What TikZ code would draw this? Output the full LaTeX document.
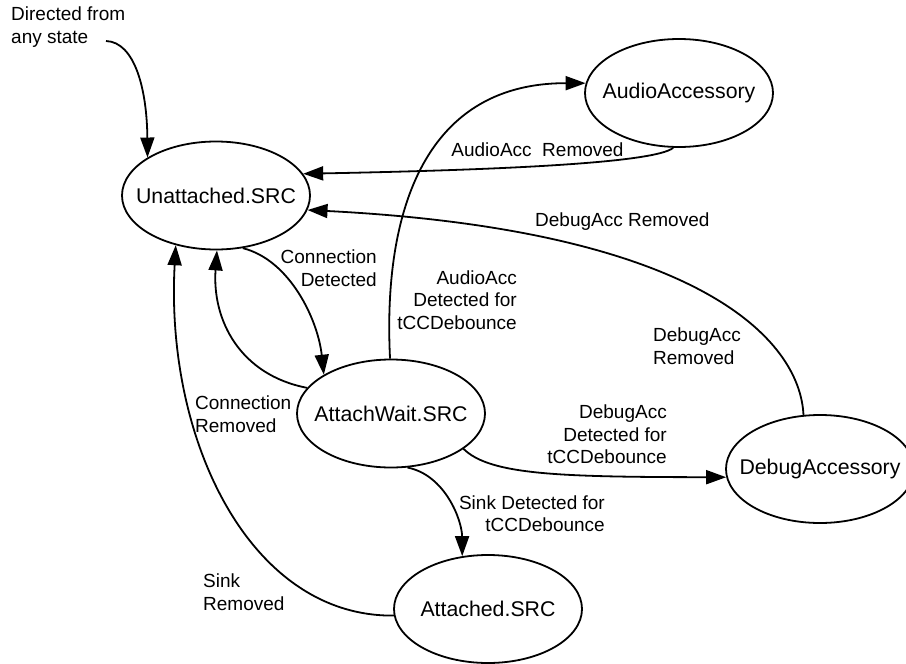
\documentclass[tikz,border=0pt]{standalone}
\usepackage{fontspec}
\setmainfont{Liberation Sans}
\usetikzlibrary{shapes.geometric,arrows.meta}
\tikzset{
  state/.style={draw, line width=1.8pt, ellipse, inner sep=0pt,
    minimum width=188pt, minimum height=108pt},
  stlabel/.style={font=\fontsize{21.3}{25}\selectfont},
  lbl/.style={inner sep=0pt, font=\fontsize{19}{22.5}\selectfont},
  edge/.style={line width=1.8pt, -{Triangle[length=20pt,width=14pt]}},
}
\begin{document}
\begin{tikzpicture}[x=1pt,y=-1pt]
\useasboundingbox (0,0) rectangle (906,664);
\clip (0,0) rectangle (906,664);

% states
\node[state, label={[stlabel]center:Unattached.SRC}] (un) at (216,195.5) {};
\node[state, label={[stlabel]center:AudioAccessory}] (aa) at (679,93) {};
\node[state, label={[stlabel]center:AttachWait.SRC}] (aw) at (391,413.5) {};
\node[state, label={[stlabel]center:DebugAccessory}] (da) at (820,469) {};
\node[state, label={[stlabel]center:Attached.SRC}] (at) at (488,609) {};

% labels
\node[lbl, anchor=west, align=left] (ldir) at (11,27) {Directed from\\any state};
\coordinate (dstart) at (106,41);
\node[lbl] (laar) at (537.5,150) {AudioAcc\ \ Removed};
\node[lbl, anchor=west] (ldar) at (535,222) {DebugAcc Removed};
\node[lbl, anchor=east, align=right] (laad) at (517,300) {AudioAcc\\Detected for\\tCCDebounce};
\node[lbl, anchor=west, align=left] (ldar2) at (653,346) {DebugAcc\\Removed};
\node[lbl, anchor=east, align=right] (ldad) at (667,434.5) {DebugAcc\\Detected for\\tCCDebounce};
\node[lbl, anchor=east, align=right] (lcd) at (377,268) {Connection\\Detected};
\node[lbl, anchor=west, align=left] (lcr) at (195,414) {Connection\\Removed};
\node[lbl, anchor=east, align=right] (lsd) at (605,513.5) {Sink Detected for\\tCCDebounce};
\node[lbl, anchor=west, align=left] (lsr) at (203,592) {Sink\\Removed};

% edges
\draw[edge] (dstart) .. controls (135,42) and (147,90) .. (un.151);
\draw[edge] (aa.-96) .. controls (655,163) and (500,170) .. (un.14.5);
\draw[edge] (aw.91) .. controls (383,220) and (420,83) .. (aa.174);
\draw[edge] (da.107.5) .. controls (800,340) and (700,230) .. (un.-9.7);
\draw[edge] (un.-63) .. controls (290,260) and (318,320) .. (aw.150.8);
\draw[edge] (aw.163.5) .. controls (240,375) and (212,320) .. (un.-89);
\draw[edge] (aw.-26.3) .. controls (490,475) and (560,477) .. (da.-175.2);
\draw[edge] (aw.-73.6) .. controls (445,475) and (462,520) .. (at.116.6);
\draw[edge] (at.184.8) .. controls (250,617) and (165,440) .. (un.-129.3);
\end{tikzpicture}
\end{document}
